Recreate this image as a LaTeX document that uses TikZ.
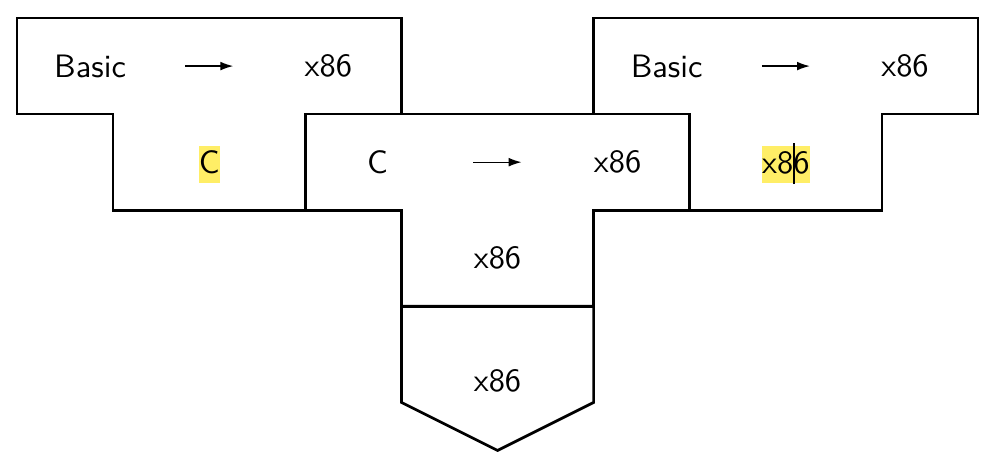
\documentclass[tikz,border=0pt]{standalone}
\usepackage{tikz}
\usetikzlibrary{arrows.meta}
\definecolor{hlyellow}{HTML}{FFEE66}

\begin{document}
\begin{tikzpicture}[lbl/.style={font=\sffamily\fontsize{9.6}{11}\selectfont, inner sep=0pt},
                    hl/.style={lbl, fill=hlyellow, text height=8.2pt, text depth=2.7pt},
                    tee/.style={line width=0.8pt, line join=miter},
                    arr/.style={-{Latex[length=3.8pt, width=2.6pt]}, line width=0.4pt}]
        \useasboundingbox (-0.177,-0.083) rectangle (10.26,4.6875);
        % outlines
        \draw[tee] (0,4.5) -- (4,4.5) -- (4,3.5) -- (3,3.5) -- (3,2.5) -- (1,2.5) -- (1,3.5) -- (0,3.5) -- cycle;
        \draw[tee] (3,3.5) -- (7,3.5) -- (7,2.5) -- (6,2.5) -- (6,1.5) -- (4,1.5) -- (4,2.5) -- (3,2.5) -- cycle;
        \draw[tee] (6,4.5) -- (10,4.5) -- (10,3.5) -- (9,3.5) -- (9,2.5) -- (7,2.5) -- (7,3.5) -- (6,3.5) -- cycle;
        \draw[tee] (4,1.5) -- (6,1.5) -- (6,0.5) -- (5,0) -- (4,0.5) -- cycle;
        % left compiler
        \node[lbl] (lsrc) at (0.76,4) {Basic};
        \node[lbl] (ltgt) at (3.24,4) {x86};
        \node[hl]  (limp) at (2,2.975) {C};
        \coordinate (la1) at (1.75,4);
        \coordinate (la2) at (2.25,4);
        \draw[arr] (la1) -- (la2);
        % middle compiler
        \node[lbl] (msrc) at (3.75,3) {C};
        \node[lbl] (mtgt) at (6.25,3) {x86};
        \node[lbl] (mimp) at (5,2) {x86};
        \coordinate (ma1) at (4.75,3);
        \coordinate (ma2) at (5.25,3);
        \draw[arr] (ma1) -- (ma2);
        % right compiler
        \node[lbl] (rsrc) at (6.76,4) {Basic};
        \node[lbl] (rtgt) at (9.24,4) {x86};
        \node[hl]  (rimp) at (8,2.975) {x8\rlap{\rule[-3pt]{0.4pt}{12.2pt}}6};
        \coordinate (ra1) at (7.75,4);
        \coordinate (ra2) at (8.25,4);
        \draw[arr] (ra1) -- (ra2);
        % machine
        \node[lbl] (mach) at (5,0.72) {x86};
    \end{tikzpicture}
\end{document}
